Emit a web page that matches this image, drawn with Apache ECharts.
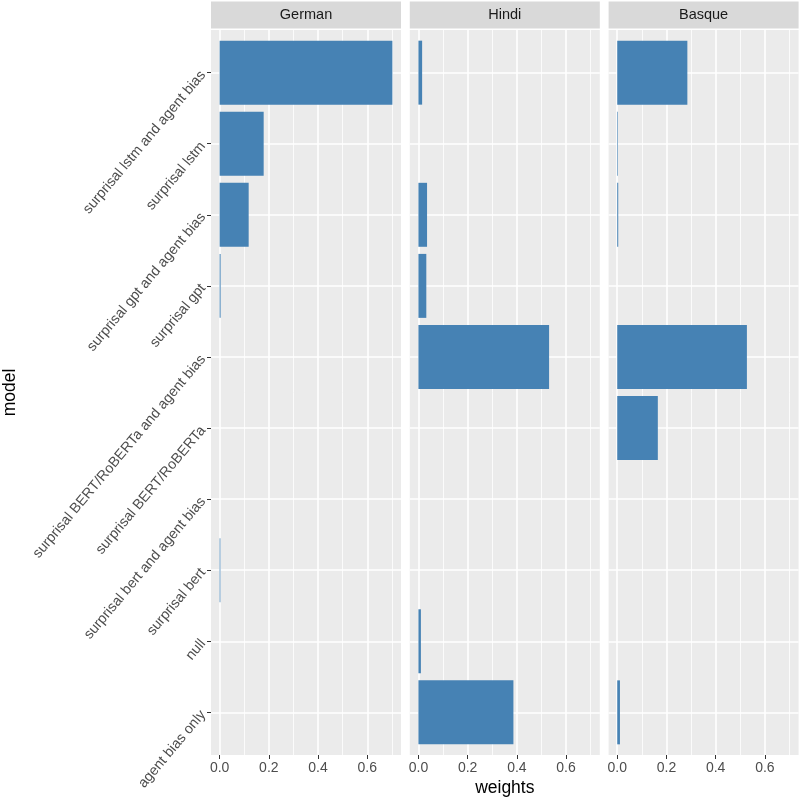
<!DOCTYPE html>
<html>
<head>
<meta charset="utf-8">
<script src="https://cdn.jsdelivr.net/npm/echarts@6/dist/echarts.min.js"></script>
<style>
html,body{margin:0;padding:0;background:#fff;}
#chart{width:800px;height:799px;}
</style>
</head>
<body>
<div id="chart"></div>
<script>
// ---- data ----
const categories = [
  'surprisal lstm and agent bias',
  'surprisal lstm',
  'surprisal gpt and agent bias',
  'surprisal gpt',
  'surprisal BERT/RoBERTa and agent bias',
  'surprisal BERT/RoBERTa',
  'surprisal bert and agent bias',
  'surprisal bert',
  'null',
  'agent bias only'
];
const panelNames = ['German', 'Hindi', 'Basque'];
const germanWeights = [0.702, 0.179, 0.118, 0.004, 0, 0, 0, 0.003, 0, 0];
const hindiWeights  = [0.015, 0, 0.035, 0.032, 0.531, 0, 0, 0, 0.010, 0.386];
const basqueWeights = [0.285, 0.002, 0.004, 0, 0.527, 0.165, 0, 0, 0, 0.011];
const xTicks = [0, 0.2, 0.4, 0.6];
const xMinorTicks = [0.1, 0.3, 0.5, 0.7];
const xMin = -0.0351, xMax = 0.7371;
const yMin = -0.6, yMax = 9.6;

const panelValues = [germanWeights, hindiWeights, basqueWeights];

// ---- layout ----
const panelLefts = [211, 409.8, 608.6];
const panelW = 190;
const panelTop = 30;
const panelH = 725;
const FONT = 'Liberation Sans, Arial, Helvetica, sans-serif';

const grids = [], xAxes = [], yAxes = [], series = [], graphics = [];
const catIdx = categories.map((c, i) => i);

panelNames.forEach((name, p) => {
  grids.push({
    left: panelLefts[p], top: panelTop, width: panelW, height: panelH,
    show: true, backgroundColor: '#EBEBEB', borderWidth: 0, containLabel: false
  });
  xAxes.push({
    type: 'value', gridIndex: p, min: xMin, max: xMax, position: 'bottom',
    axisLine: { show: false, onZero: false },
    splitLine: { show: false },
    axisTick: { show: true, customValues: xTicks, length: 4, lineStyle: { color: '#333333', width: 1 } },
    axisLabel: {
      show: true, customValues: xTicks, margin: 6,
      formatter: v => v.toFixed(1),
      color: '#4D4D4D', fontSize: 14, fontFamily: FONT
    }
  });
  yAxes.push({
    type: 'value', gridIndex: p, min: yMin, max: yMax, inverse: true, position: 'left',
    axisLine: { show: false, onZero: false },
    splitLine: { show: false },
    axisTick: { show: p === 0, customValues: catIdx, length: 4, lineStyle: { color: '#333333', width: 1 } },
    axisLabel: {
      show: p === 0, customValues: catIdx, rotate: 50, margin: 8,
      align: 'right', verticalAlign: 'middle',
      formatter: v => categories[Math.round(v)],
      color: '#4D4D4D', fontSize: 14.3, fontFamily: FONT
    }
  });
  // gridlines (through axis coordinates via markLine on an empty series)
  const gridLines = [];
  xMinorTicks.forEach(v => gridLines.push({ xAxis: v, lineStyle: { width: 0.8 } }));
  xTicks.forEach(v => gridLines.push({ xAxis: v, lineStyle: { width: 1.6 } }));
  catIdx.forEach(i => gridLines.push({ yAxis: i, lineStyle: { width: 1.6 } }));
  series.push({
    type: 'line', xAxisIndex: p, yAxisIndex: p, z: 1, silent: true,
    data: [],
    markLine: {
      silent: true, z: 1, animation: false,
      symbol: ['none', 'none'],
      label: { show: false },
      emphasis: { disabled: true },
      lineStyle: { color: '#FFFFFF', type: 'solid', width: 1.6 },
      data: gridLines
    }
  });
  // bars
  series.push({
    type: 'custom', name: name, xAxisIndex: p, yAxisIndex: p, z: 3,
    data: panelValues[p].map((v, i) => [v, i]),
    renderItem: (params, api) => {
      const v = api.value(0), i = api.value(1);
      if (!(v > 0)) return null;
      const p0 = api.coord([0, i]);
      const p1 = api.coord([v, i]);
      const h = Math.abs(api.size([0, 0.9])[1]);
      return { type: 'rect',
               shape: { x: p0[0], y: p0[1] - h / 2, width: Math.max(p1[0] - p0[0], 0.6), height: h },
               style: { fill: '#4682B4' } };
    }
  });
  // facet strip
  graphics.push({
    type: 'rect', left: panelLefts[p], top: 1.5,
    shape: { width: panelW, height: 27 },
    style: { fill: '#D9D9D9' }, silent: true
  });
  graphics.push({
    type: 'text', x: panelLefts[p] + panelW / 2, y: 15,
    style: { text: name, fill: '#1A1A1A', font: '14.5px ' + FONT, textAlign: 'center', textVerticalAlign: 'middle' },
    silent: true
  });
});

// axis titles
graphics.push({
  type: 'text', x: panelLefts[1] + panelW / 2, y: 788,
  style: { text: 'weights', fill: '#000000', font: '17.5px ' + FONT, textAlign: 'center', textVerticalAlign: 'middle' },
  silent: true
});
graphics.push({
  type: 'text', x: 10, y: panelTop + panelH / 2, rotation: Math.PI / 2,
  style: { text: 'model', fill: '#000000', font: '17.5px ' + FONT, textAlign: 'center', textVerticalAlign: 'middle' },
  silent: true
});

const chart = echarts.init(document.getElementById('chart'), null, { renderer: 'canvas' });
chart.setOption({
  backgroundColor: '#FFFFFF',
  animation: false,
  grid: grids,
  xAxis: xAxes,
  yAxis: yAxes,
  series: series,
  graphic: graphics
});
</script>
</body>
</html>
